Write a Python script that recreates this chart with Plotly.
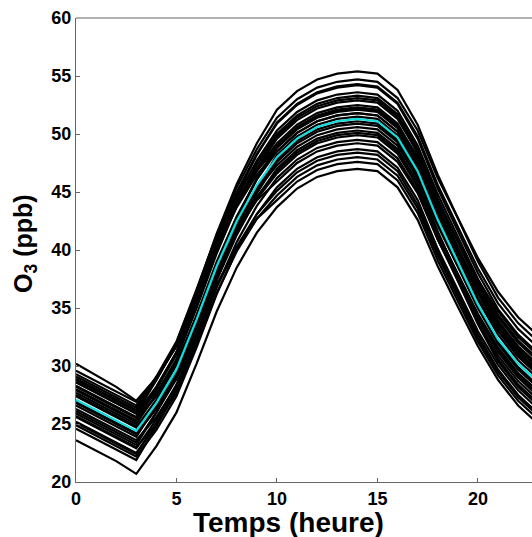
import plotly.graph_objects as go

hours = list(range(24))

# Ensemble members (O3, ppb)
members = [
    [23.6, 22.7, 21.8, 20.7, 23.1, 26.0, 30.2, 34.7, 38.5, 41.5, 43.7, 45.3, 46.3, 46.8, 47.0, 46.8, 45.4, 42.6, 38.6, 35.1, 31.7, 28.8, 26.6, 25.0],
    [30.2, 29.2, 28.2, 27.0, 29.0, 31.7, 35.8, 40.2, 43.7, 46.5, 48.5, 50.1, 51.1, 51.6, 51.8, 51.6, 50.2, 47.4, 43.3, 39.8, 36.3, 33.4, 31.2, 29.6],
    [28.6, 27.7, 26.8, 25.9, 28.8, 32.0, 36.5, 41.4, 45.7, 49.2, 52.1, 53.7, 54.7, 55.2, 55.4, 55.2, 53.8, 50.8, 46.5, 42.7, 39.0, 35.9, 33.7, 32.1],
    [29.1, 28.2, 27.3, 26.4, 29.1, 32.1, 36.6, 41.3, 45.4, 48.7, 51.4, 53.0, 54.0, 54.5, 54.7, 54.5, 53.1, 50.3, 46.2, 42.8, 39.3, 36.4, 34.2, 32.6],
    [28.9, 28.0, 27.1, 26.2, 28.8, 31.8, 36.2, 41.0, 45.0, 48.3, 50.9, 52.5, 53.5, 54.0, 54.2, 54.0, 52.6, 49.6, 45.3, 41.7, 38.0, 34.9, 32.7, 31.1],
    [28.3, 27.4, 26.5, 25.6, 28.2, 31.2, 35.6, 40.4, 44.4, 47.7, 50.3, 51.9, 52.9, 53.4, 53.6, 53.4, 52.0, 49.0, 44.8, 41.1, 37.5, 34.4, 32.2, 30.6],
    [29.3, 28.4, 27.5, 26.6, 29.0, 31.8, 36.1, 40.7, 44.6, 47.6, 50.0, 51.6, 52.6, 53.1, 53.3, 53.1, 51.7, 48.7, 44.4, 40.7, 37.0, 33.9, 31.7, 30.1],
    [27.7, 26.8, 25.9, 25.0, 27.6, 30.6, 35.0, 39.7, 43.8, 47.0, 49.6, 51.2, 52.2, 52.7, 52.9, 52.7, 51.3, 48.4, 44.3, 40.7, 37.2, 34.2, 32.0, 30.4],
    [28.6, 27.7, 26.8, 25.9, 28.2, 31.1, 35.4, 40.0, 43.8, 46.9, 49.2, 50.8, 51.8, 52.3, 52.5, 52.3, 50.9, 47.9, 43.6, 40.0, 36.3, 33.2, 31.0, 29.4],
    [26.6, 25.7, 24.8, 23.9, 26.6, 29.6, 34.0, 38.8, 42.8, 46.1, 48.8, 50.4, 51.4, 51.9, 52.1, 51.9, 50.5, 47.7, 43.6, 40.0, 36.5, 33.6, 31.4, 29.8],
    [27.4, 26.5, 25.6, 24.7, 27.1, 30.1, 34.4, 39.0, 42.9, 46.1, 48.5, 50.1, 51.1, 51.6, 51.8, 51.6, 50.2, 47.3, 43.0, 39.4, 35.7, 32.7, 30.5, 28.9],
    [26.1, 25.2, 24.3, 23.4, 26.0, 28.9, 33.3, 38.0, 42.0, 45.2, 47.8, 49.4, 50.4, 50.9, 51.1, 50.9, 49.5, 46.5, 42.3, 38.6, 35.0, 31.9, 29.7, 28.1],
    [28.0, 27.1, 26.2, 25.3, 27.4, 30.1, 34.3, 38.7, 42.4, 45.2, 47.3, 48.9, 49.9, 50.4, 50.6, 50.4, 49.0, 46.2, 42.1, 38.5, 35.0, 32.1, 29.9, 28.3],
    [25.6, 24.7, 23.8, 22.9, 25.4, 28.4, 32.7, 37.4, 41.3, 44.5, 47.0, 48.6, 49.6, 50.1, 50.3, 50.1, 48.7, 45.8, 41.5, 37.9, 34.2, 31.2, 29.0, 27.4],
    [26.8, 25.9, 25.0, 24.1, 26.3, 29.1, 33.3, 37.8, 41.5, 44.4, 46.6, 48.2, 49.2, 49.7, 49.9, 49.7, 48.3, 45.5, 41.4, 38.0, 34.5, 31.6, 29.4, 27.8],
    [25.2, 24.3, 23.4, 22.5, 24.9, 27.8, 32.1, 36.8, 40.7, 43.8, 46.2, 47.8, 48.8, 49.3, 49.5, 49.3, 47.9, 45.1, 40.9, 37.4, 33.8, 30.9, 28.7, 27.1],
    [28.8, 27.9, 27.0, 26.1, 27.7, 30.3, 34.2, 38.4, 41.7, 44.3, 45.9, 47.5, 48.5, 49.0, 49.2, 49.0, 47.6, 44.9, 40.9, 37.6, 34.2, 31.4, 29.2, 27.6],
    [24.9, 24.0, 23.1, 22.2, 24.5, 27.4, 31.6, 36.2, 40.0, 43.1, 45.4, 47.0, 48.0, 48.5, 48.7, 48.5, 47.1, 44.3, 40.1, 36.6, 33.0, 30.1, 27.9, 26.3],
    [26.3, 25.4, 24.5, 23.6, 25.6, 28.3, 32.4, 36.8, 40.3, 43.1, 45.1, 46.7, 47.7, 48.2, 48.4, 48.2, 46.8, 43.9, 39.8, 36.2, 32.7, 29.7, 27.5, 25.9],
    [25.7, 24.8, 23.9, 23.0, 25.0, 27.7, 31.8, 36.3, 39.9, 42.7, 44.7, 46.3, 47.3, 47.8, 48.0, 47.8, 46.4, 43.6, 39.5, 35.9, 32.4, 29.5, 27.3, 25.7],
    [27.5, 26.6, 25.7, 24.8, 26.4, 28.9, 32.8, 37.0, 40.2, 42.7, 44.3, 45.9, 46.9, 47.4, 47.6, 47.4, 46.0, 43.2, 39.1, 35.6, 32.1, 29.2, 27.0, 25.4],
    [24.6, 23.7, 22.8, 21.9, 24.8, 28.0, 32.6, 37.5, 41.8, 45.3, 48.2, 49.8, 50.8, 51.3, 51.5, 51.3, 49.9, 47.1, 43.0, 39.4, 35.9, 33.0, 30.8, 29.2],
    [25.9, 25.0, 24.1, 23.2, 26.0, 29.2, 33.7, 38.5, 42.7, 46.2, 49.0, 50.6, 51.6, 52.1, 52.3, 52.1, 50.7, 48.1, 44.1, 40.8, 37.4, 34.7, 32.5, 30.9],
    [27.9, 27.0, 26.1, 25.2, 28.0, 31.2, 35.7, 40.5, 44.7, 48.2, 51.0, 52.6, 53.6, 54.1, 54.3, 54.1, 52.7, 49.8, 45.6, 42.0, 38.4, 35.4, 33.2, 31.6],
    [25.1, 24.2, 23.3, 22.4, 25.1, 28.2, 32.6, 37.4, 41.5, 44.9, 47.6, 49.2, 50.2, 50.7, 50.9, 50.7, 49.3, 46.1, 41.6, 37.8, 33.9, 30.6, 28.4, 26.8],
    [28.2, 27.3, 26.4, 25.5, 28.0, 31.0, 35.4, 40.1, 44.1, 47.3, 49.8, 51.4, 52.4, 52.9, 53.1, 52.9, 51.5, 48.4, 44.0, 40.3, 36.5, 33.3, 31.1, 29.5],
    [26.9, 26.0, 25.1, 24.2, 26.4, 29.2, 33.4, 37.9, 41.7, 44.6, 46.8, 48.4, 49.4, 49.9, 50.1, 49.9, 48.5, 45.4, 41.1, 37.3, 33.6, 30.4, 28.2, 26.6],
    [29.6, 28.7, 27.8, 26.9, 29.0, 31.7, 35.9, 40.3, 44.0, 46.8, 48.9, 50.5, 51.5, 52.0, 52.2, 52.0, 50.6, 47.8, 43.7, 40.2, 36.7, 33.8, 31.6, 30.0],
]

# Mean curve (cyan)
mean_curve = [27.1, 26.2, 25.3, 24.4, 26.8, 29.7, 34.0, 38.6, 42.5, 45.6, 48.0, 49.6, 50.6, 51.1, 51.3, 51.1, 49.7, 46.8, 42.6, 39.0, 35.3, 32.3, 30.2, 28.6]

x_ticks = [0, 5, 10, 15, 20]
y_ticks = [20, 25, 30, 35, 40, 45, 50, 55, 60]

fig = go.Figure()
for m in members:
    fig.add_trace(go.Scatter(x=hours, y=m, mode="lines",
                             line=dict(color="black", width=2.2), hoverinfo="skip"))
fig.add_trace(go.Scatter(x=hours, y=mean_curve, mode="lines",
                         line=dict(color="#12dcdc", width=2.2), hoverinfo="skip"))

font = "Liberation Sans, Arial, sans-serif"
axis_common = dict(showgrid=False, zeroline=False, showline=True, linecolor="#666",
                   linewidth=1, ticks="inside", ticklen=4, tickcolor="#666",
                   tickfont=dict(family=font, size=18, color="black", weight="bold"))

fig.update_layout(
    width=532, height=537,
    margin=dict(l=76, r=0, t=18, b=55),
    paper_bgcolor="white", plot_bgcolor="white",
    showlegend=False,
    xaxis=dict(range=[0, 22.69], tickvals=x_ticks, ticktext=[str(v) for v in x_ticks], **axis_common),
    yaxis=dict(range=[20, 60], tickvals=y_ticks, ticktext=[str(v) for v in y_ticks], **axis_common),
    shapes=[dict(type="line", xref="paper", yref="paper", x0=0, x1=1, y0=1, y1=1,
                 line=dict(color="#666", width=1))],
    annotations=[
        dict(text="<b>Temps (heure)</b>", xref="paper", yref="paper", x=0.465, y=-0.087,
             xanchor="center", yanchor="middle", showarrow=False,
             font=dict(family=font, size=28, color="black")),
        dict(text="<b>O<sub>3</sub> (ppb)</b>", xref="paper", yref="paper", x=-0.112, y=0.515,
             xanchor="center", yanchor="middle", showarrow=False, textangle=-90,
             font=dict(family=font, size=25, color="black")),
    ],
)

fig.write_html("out.html", config={"displayModeBar": False},
               post_script="document.body.style.margin='0';document.body.style.overflow='hidden';")
